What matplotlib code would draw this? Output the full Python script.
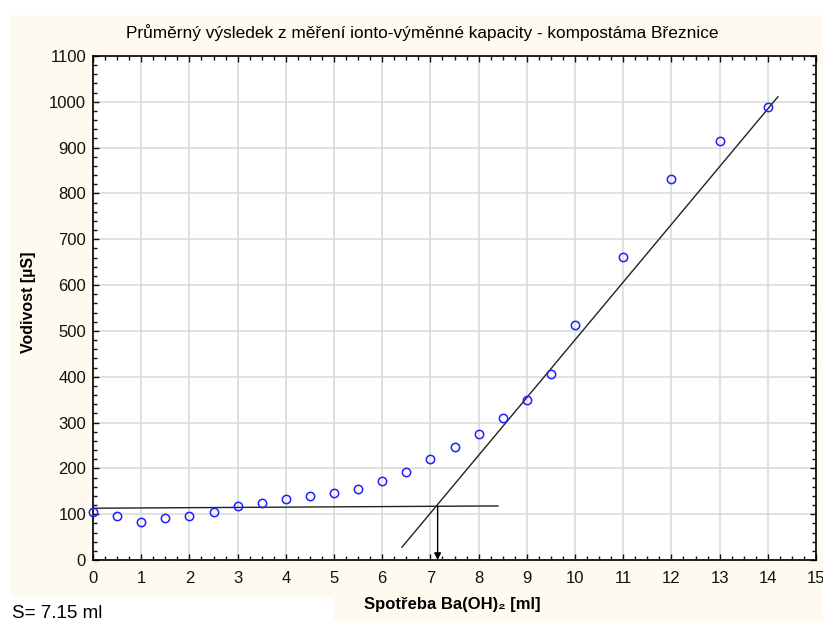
import numpy as np
from matplotlib import pyplot as plt
from matplotlib.patches import Rectangle
from matplotlib.ticker import MultipleLocator

plt.rcParams["font.family"] = ["Liberation Sans", "DejaVu Sans"]

# measured points
spotreba = [0, 0.5, 1, 1.5, 2, 2.5, 3, 3.5, 4, 4.5, 5, 5.5, 6, 6.5, 7, 7.5,
            8, 8.5, 9, 9.5, 10, 11, 12, 13, 14]
vodivost = [105, 96, 83, 92, 96, 105, 118, 124, 133, 140, 146, 155, 172, 192,
            220, 247, 275, 310, 349, 406, 513, 661, 831, 914, 988]

# fitted lines (plateau and steep part) and their intersection
plateau_x = [0, 8.4]
plateau_y = [113, 118]
steep_x = [6.41, 14.21]
steep_y = [28, 1011]
S = 7.15
S_y = 117

fig = plt.figure(figsize=(8.23, 6.21), dpi=100)
fig.patch.set_facecolor("white")
cream = "#fffaf0"
fig.patches.append(Rectangle((10 / 823, 0), 813 / 823, 1 - 15 / 621,
                             transform=fig.transFigure, facecolor=cream,
                             edgecolor="none", zorder=-10))
fig.patches.append(Rectangle((0, 0), 333 / 823, 24 / 621,
                             transform=fig.transFigure, facecolor="white",
                             edgecolor="none", zorder=-9))

ax = fig.add_axes([93 / 823, 1 - 560 / 621, 723 / 823, 504 / 621])
ax.set_facecolor("white")

ax.plot(plateau_x, plateau_y, color="#222222", lw=1.0)
ax.plot(steep_x, steep_y, color="#222222", lw=1.0)
ax.annotate("", xy=(S, 0), xytext=(S, S_y),
            arrowprops=dict(arrowstyle="-|>", color="black", lw=1.0,
                            mutation_scale=10, shrinkA=0, shrinkB=0))
ax.plot(spotreba, vodivost, "o", mfc="none", mec="#2020ff", ms=6, mew=1.1,
        clip_on=False, zorder=5)

ax.set_xlim(0, 15)
ax.set_ylim(0, 1100)
ax.xaxis.set_major_locator(MultipleLocator(1))
ax.xaxis.set_minor_locator(MultipleLocator(0.25))
ax.yaxis.set_major_locator(MultipleLocator(100))
ax.yaxis.set_minor_locator(MultipleLocator(20))
ax.tick_params(which="both", direction="in", top=True, right=True,
               labelsize=12, width=1, colors="#111111")
ax.tick_params(which="major", length=4)
ax.tick_params(which="minor", length=3)
ax.tick_params(axis="x", which="major", pad=8)
ax.tick_params(axis="y", which="major", pad=5)
ax.grid(True, which="major", color="#dcdcdc", lw=1.2)
ax.set_axisbelow(True)
for sp in ax.spines.values():
    sp.set_linewidth(1.2)

fig.text(0.5 * (125 + 720) / 823, 1 - 33 / 621,
         "Průměrný výsledek z měření ionto-výměnné kapacity - kompostáma Březnice",
         ha="center", va="center", fontsize=12.4)
fig.text(29 / 823, 1 - 302 / 621, "Vodivost [µS]", rotation=90,
         ha="center", va="center", fontsize=11.5, fontweight="bold")
fig.text(452 / 823, 1 - 605 / 621, "Spotřeba Ba(OH)₂ [ml]",
         ha="center", va="center", fontsize=12, fontweight="bold")
fig.text(12 / 823, 1 - 614 / 621, "S= 7.15 ml", ha="left", va="center",
         fontsize=13.5)

fig.savefig("out.png", dpi=100)
